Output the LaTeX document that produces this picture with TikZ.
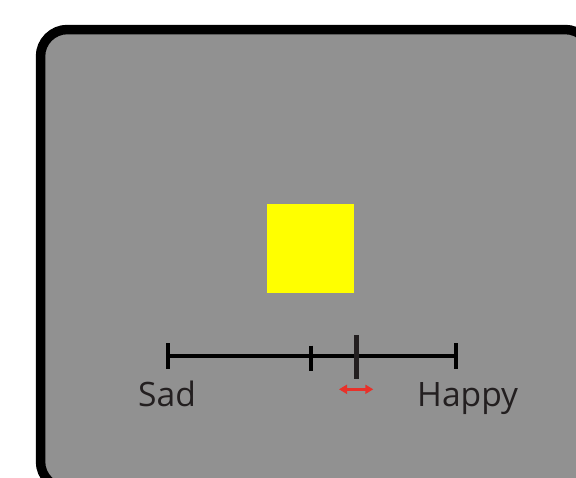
\documentclass[tikz,border=0pt]{standalone}
\usepackage{fontspec}
\setmainfont{Open Sans}
\usetikzlibrary{arrows.meta}
\definecolor{panelgray}{RGB}{145,145,145}
\definecolor{txtdark}{RGB}{35,31,32}
\definecolor{arrowred}{RGB}{232,49,42}
\definecolor{squareyellow}{RGB}{255,255,0}
\tikzset{
  scaleline/.style={line width=4.8pt, draw=black},
  endtick/.style={line width=4pt, draw=black},
  marker/.style={line width=5pt, draw=txtdark},
  label/.style={inner sep=0pt, anchor=base west, text=txtdark, font=\fontsize{33.6pt}{36pt}\selectfont},
}
\begin{document}
\begin{tikzpicture}[x=1pt,y=-1pt]
\useasboundingbox (0,0) rectangle (576,477);
\clip (0,0) rectangle (576,477);
\draw[line width=9.5pt, fill=panelgray, rounded corners=27pt] (40.5,29.5) rectangle (592,488.5);
\fill[squareyellow] (267,204) rectangle (354,293);
\coordinate (L) at (168,356);
\coordinate (R) at (456,356);
\draw[scaleline] (L) -- (R);
\draw[endtick] (168,343) -- (168,369);
\draw[endtick] (311,345.5) -- (311,370.5);
\draw[endtick] (456,343) -- (456,369);
\draw[marker] (356,335) -- (356,379);
\node[label] (sad) at (138,406) {Sad};
\node[label] (happy) at (417,406) {Happy};
\coordinate (a1) at (339,389.3);
\coordinate (a2) at (373.3,389.3);
\draw[arrowred, line width=2.4pt, {Triangle[length=8pt,width=9pt]}-{Triangle[length=8pt,width=9pt]}] (a1) -- (a2);
\end{tikzpicture}
\end{document}
